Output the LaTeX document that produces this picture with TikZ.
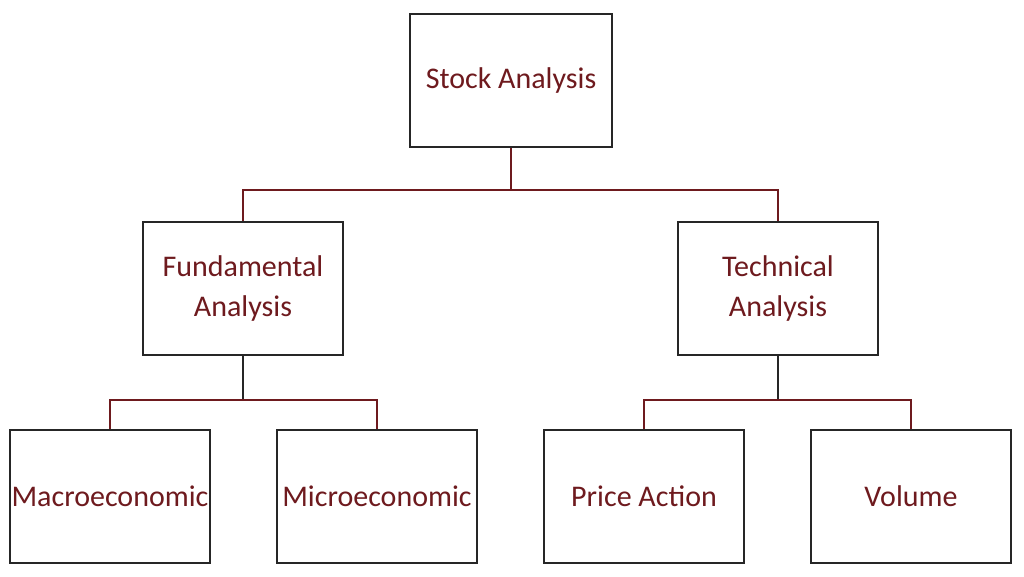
\documentclass[tikz,border=0pt]{standalone}
\usepackage{fontspec}
\setmainfont{Carlito}
\definecolor{dred}{HTML}{6E1A1E}
\begin{document}
\begin{tikzpicture}[x=1pt,y=-1pt,
  box/.style={draw=black!85,line width=1.3pt,minimum width=200pt,minimum height=133pt,inner sep=0pt,text=dred,font=\fontsize{30}{40}\selectfont,align=center},
  conn/.style={draw=dred,line width=1.3pt}]
\useasboundingbox[fill=white] (0,0) rectangle (1024,576);
\node[box,minimum width=202pt] (sa) at (511,80.5) {\raisebox{5pt}{Stock Analysis}};
\node[box] (fa) at (243,288.5) {Fundamental\\Analysis};
\node[box] (ta) at (778,288.5) {Technical\\Analysis};
\node[box] (ma) at (110,496.5) {Macroeconomic};
\node[box] (mi) at (377,496.5) {Microeconomic};
\node[box] (pa) at (644,496.5) {Price Action};
\node[box] (vo) at (911,496.5) {Volume};
\coordinate (j1) at (511,190);
\coordinate (j2) at (243,400);
\coordinate (j3) at (778,400);
\draw[conn] (sa.south) -- (j1);
\draw[conn] (j1) -| (fa.north);
\draw[conn] (j1) -| (ta.north);
\draw[conn,draw=black!85] (fa.south) -- (j2);
\draw[conn] (j2) -| (ma.north);
\draw[conn] (j2) -| (mi.north);
\draw[conn,draw=black!85] (ta.south) -- (j3);
\draw[conn] (j3) -| (pa.north);
\draw[conn] (j3) -| (vo.north);
\end{tikzpicture}
\end{document}
